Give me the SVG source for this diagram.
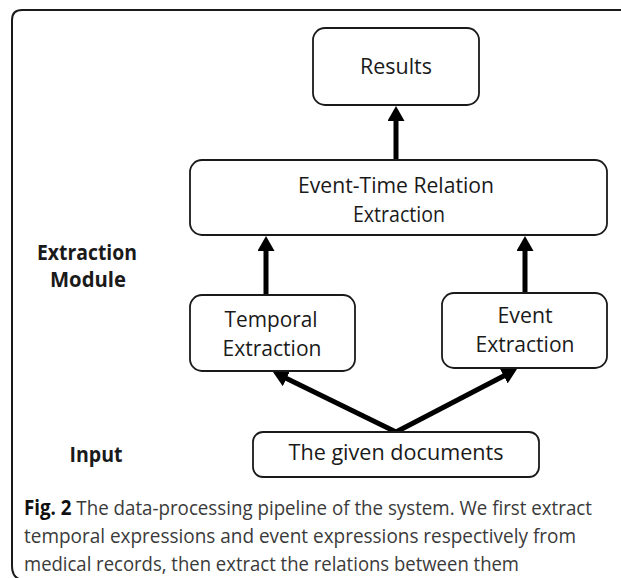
<svg xmlns="http://www.w3.org/2000/svg" width="621" height="578" viewBox="0 0 621 578">
<style>
.box{fill:#fff;stroke:#1a1a1a;stroke-width:1.8}
.t{font-family:"Open Sans","Noto Sans","Liberation Sans",sans-serif;font-size:22px;fill:#1a1a1a;text-anchor:middle}
.lb{font-family:"Open Sans","Noto Sans","Liberation Sans",sans-serif;font-size:21px;font-weight:bold;fill:#1a1a1a;text-anchor:middle}
.cap{font-family:"Open Sans","Noto Sans","Liberation Sans",sans-serif;font-size:20.5px;fill:#3a3a3a}
.arr{stroke:#000;stroke-width:5;fill:none}
</style>
<defs>
<marker id="ah" viewBox="0 0 15 17" refX="1" refY="8.5" markerWidth="15" markerHeight="17" markerUnits="userSpaceOnUse" orient="auto">
<path d="M0,0 L15,8.5 L0,17 z" fill="#000"/>
</marker>
</defs>
<path d="M621,10 H22 Q12,10 12,20 V566 Q12,578 22,580" fill="none" stroke="#1a1a1a" stroke-width="2"/>
<g id="connectors">
<line class="arr" x1="396" y1="160" x2="396" y2="120" marker-end="url(#ah)"/>
<line class="arr" x1="266" y1="295" x2="266" y2="250" marker-end="url(#ah)"/>
<line class="arr" x1="525" y1="293" x2="525" y2="250" marker-end="url(#ah)"/>
<line class="arr" x1="396" y1="432" x2="285.6" y2="378.1" marker-end="url(#ah)"/>
<line class="arr" x1="396" y1="432" x2="504.6" y2="375.5" marker-end="url(#ah)"/>
</g>
<g id="results">
<rect class="box" x="313" y="28" width="166" height="77" rx="12"/>
<text class="t" x="396" y="74" textLength="72" lengthAdjust="spacingAndGlyphs">Results</text>
</g>
<g id="relation">
<rect class="box" x="190" y="160" width="417" height="75" rx="12"/>
<text class="t" x="396" y="193" font-size="21" textLength="196" lengthAdjust="spacingAndGlyphs">Event-Time Relation</text>
<text class="t" x="399" y="222" font-size="21" textLength="92" lengthAdjust="spacingAndGlyphs">Extraction</text>
</g>
<g id="temporal">
<rect class="box" x="190" y="295" width="165" height="76" rx="12"/>
<text class="t" x="271" y="327" textLength="93" lengthAdjust="spacingAndGlyphs">Temporal</text>
<text class="t" x="272" y="356" textLength="99" lengthAdjust="spacingAndGlyphs">Extraction</text>
</g>
<g id="event">
<rect class="box" x="442" y="293" width="165" height="75" rx="12"/>
<text class="t" x="525" y="323" textLength="55" lengthAdjust="spacingAndGlyphs">Event</text>
<text class="t" x="525" y="352" textLength="99" lengthAdjust="spacingAndGlyphs">Extraction</text>
</g>
<g id="documents">
<rect class="box" x="253" y="432" width="286" height="45" rx="10"/>
<text class="t" x="396" y="460" textLength="215" lengthAdjust="spacingAndGlyphs">The given documents</text>
</g>
<g id="labels">
<text class="lb" x="87" y="260" textLength="100" lengthAdjust="spacingAndGlyphs">Extraction</text>
<text class="lb" x="88" y="287" textLength="76" lengthAdjust="spacingAndGlyphs">Module</text>
<text class="lb" x="96" y="462" textLength="53" lengthAdjust="spacingAndGlyphs">Input</text>
</g>
<g id="caption">
<text class="cap" x="24" y="515" textLength="568" lengthAdjust="spacingAndGlyphs"><tspan font-weight="bold" fill="#111">Fig. 2</tspan> The data-processing pipeline of the system. We first extract</text>
<text class="cap" x="24" y="543" textLength="552" lengthAdjust="spacingAndGlyphs">temporal expressions and event expressions respectively from</text>
<text class="cap" x="24" y="571" textLength="495" lengthAdjust="spacingAndGlyphs">medical records, then extract the relations between them</text>
</g>
</svg>
